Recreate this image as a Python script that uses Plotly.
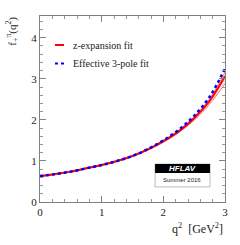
import plotly.graph_objects as go

q2 = [0.0, 0.25, 0.5, 0.75, 1.0, 1.25, 1.5, 1.75, 2.0, 2.25, 2.5, 2.75, 3.0]
pole3 = [0.63, 0.68, 0.74, 0.82, 0.90, 1.00, 1.12, 1.29, 1.50, 1.76, 2.10, 2.56, 3.25]
zexp = [0.63, 0.68, 0.74, 0.82, 0.90, 1.00, 1.12, 1.28, 1.48, 1.72, 2.04, 2.46, 3.06]
zexp_hi = [0.64, 0.69, 0.75, 0.83, 0.91, 1.01, 1.13, 1.30, 1.50, 1.75, 2.08, 2.52, 3.16]
zexp_lo = [0.62, 0.67, 0.73, 0.81, 0.89, 0.99, 1.11, 1.26, 1.45, 1.69, 1.99, 2.38, 2.88]
legend_labels = ["z-expansion fit", "Effective 3-pole fit"]

fig = go.Figure()
fig.add_trace(go.Scatter(x=q2, y=zexp_lo, mode="lines", line=dict(color="#f08080", width=1, shape="spline"),
                         showlegend=False, hoverinfo="skip"))
fig.add_trace(go.Scatter(x=q2, y=zexp_hi, mode="lines", line=dict(color="#f08080", width=1, shape="spline"),
                         fill="tonexty", fillcolor="rgba(255,180,180,0.5)", showlegend=False, hoverinfo="skip"))
fig.add_trace(go.Scatter(x=q2, y=zexp, mode="lines", line=dict(color="#ff0000", width=2, shape="spline"),
                         name=legend_labels[0], showlegend=False))
fig.add_trace(go.Scatter(x=q2, y=pole3, mode="lines", line=dict(color="#0000ff", width=2.5, dash="dot", shape="spline"),
                         name=legend_labels[1], showlegend=False))

axis_common = dict(
    showgrid=False, zeroline=False, showline=True, linecolor="#808080", linewidth=1,
    mirror="ticks", ticks="inside", ticklen=6, tickcolor="#808080", tickwidth=1,
    tickfont=dict(family="Liberation Serif", size=11, color="#222"), automargin=False,
)
fig.update_xaxes(range=[0, 3], dtick=1, tick0=0,
                 minor=dict(dtick=0.2, ticks="inside", ticklen=3, tickcolor="#999"), **axis_common)
fig.update_yaxes(range=[0, 4.53], dtick=1, tick0=0,
                 minor=dict(dtick=0.2, ticks="inside", ticklen=3, tickcolor="#999"), **axis_common)

leg_font = dict(family="Liberation Serif", size=10, color="#222")
fig.update_layout(
    width=240, height=245,
    margin=dict(l=40, r=15, t=16, b=43, autoexpand=False),
    paper_bgcolor="white", plot_bgcolor="white",
    showlegend=False,
    annotations=[
        dict(text=legend_labels[0], xref="paper", yref="paper", x=0.17, y=0.844,
             xanchor="left", yanchor="middle", showarrow=False, font=leg_font),
        dict(text=legend_labels[1], xref="paper", yref="paper", x=0.17, y=0.745,
             xanchor="left", yanchor="middle", showarrow=False, font=leg_font),
        dict(text="f<sub>+</sub><sup>π</sup>(q<sup>2</sup>)", xref="paper", yref="paper",
             x=-0.151, y=1.005, xanchor="center", yanchor="top", textangle=-90, showarrow=False,
             font=dict(family="Liberation Serif", size=11, color="#222")),
        dict(text="q<sup>2</sup>  [GeV<sup>2</sup>]", xref="paper", yref="paper",
             x=1.0, y=-0.09, xanchor="right", yanchor="top", showarrow=False,
             font=dict(family="Liberation Serif", size=12, color="#222")),
        dict(text="<b><i>HFLAV</i></b>", xref="paper", yref="paper",
             x=0.77, y=0.18, xanchor="center", yanchor="middle", showarrow=False,
             font=dict(family="Liberation Sans", size=8, color="white")),
        dict(text="Summer 2016", xref="paper", yref="paper",
             x=0.77, y=0.118, xanchor="center", yanchor="middle", showarrow=False,
             font=dict(family="Liberation Sans", size=6, color="#222")),
    ],
    shapes=[
        dict(type="line", xref="paper", yref="paper", x0=0.081, x1=0.13, y0=0.844, y1=0.844,
             line=dict(color="#ff0000", width=2)),
        dict(type="line", xref="paper", yref="paper", x0=0.081, x1=0.13, y0=0.745, y1=0.745,
             line=dict(color="#0000ff", width=2, dash="dot")),
        dict(type="rect", xref="paper", yref="paper", x0=0.622, x1=0.919, y0=0.081, y1=0.204,
             line=dict(color="#bbb", width=1), fillcolor="white", layer="above"),
        dict(type="rect", xref="paper", yref="paper", x0=0.622, x1=0.919, y0=0.156, y1=0.204,
             line=dict(color="black", width=0), fillcolor="black", layer="above"),
    ],
)
fig.write_html("out.html", config={"displayModeBar": False},
               post_script="document.body.style.margin='0';")
